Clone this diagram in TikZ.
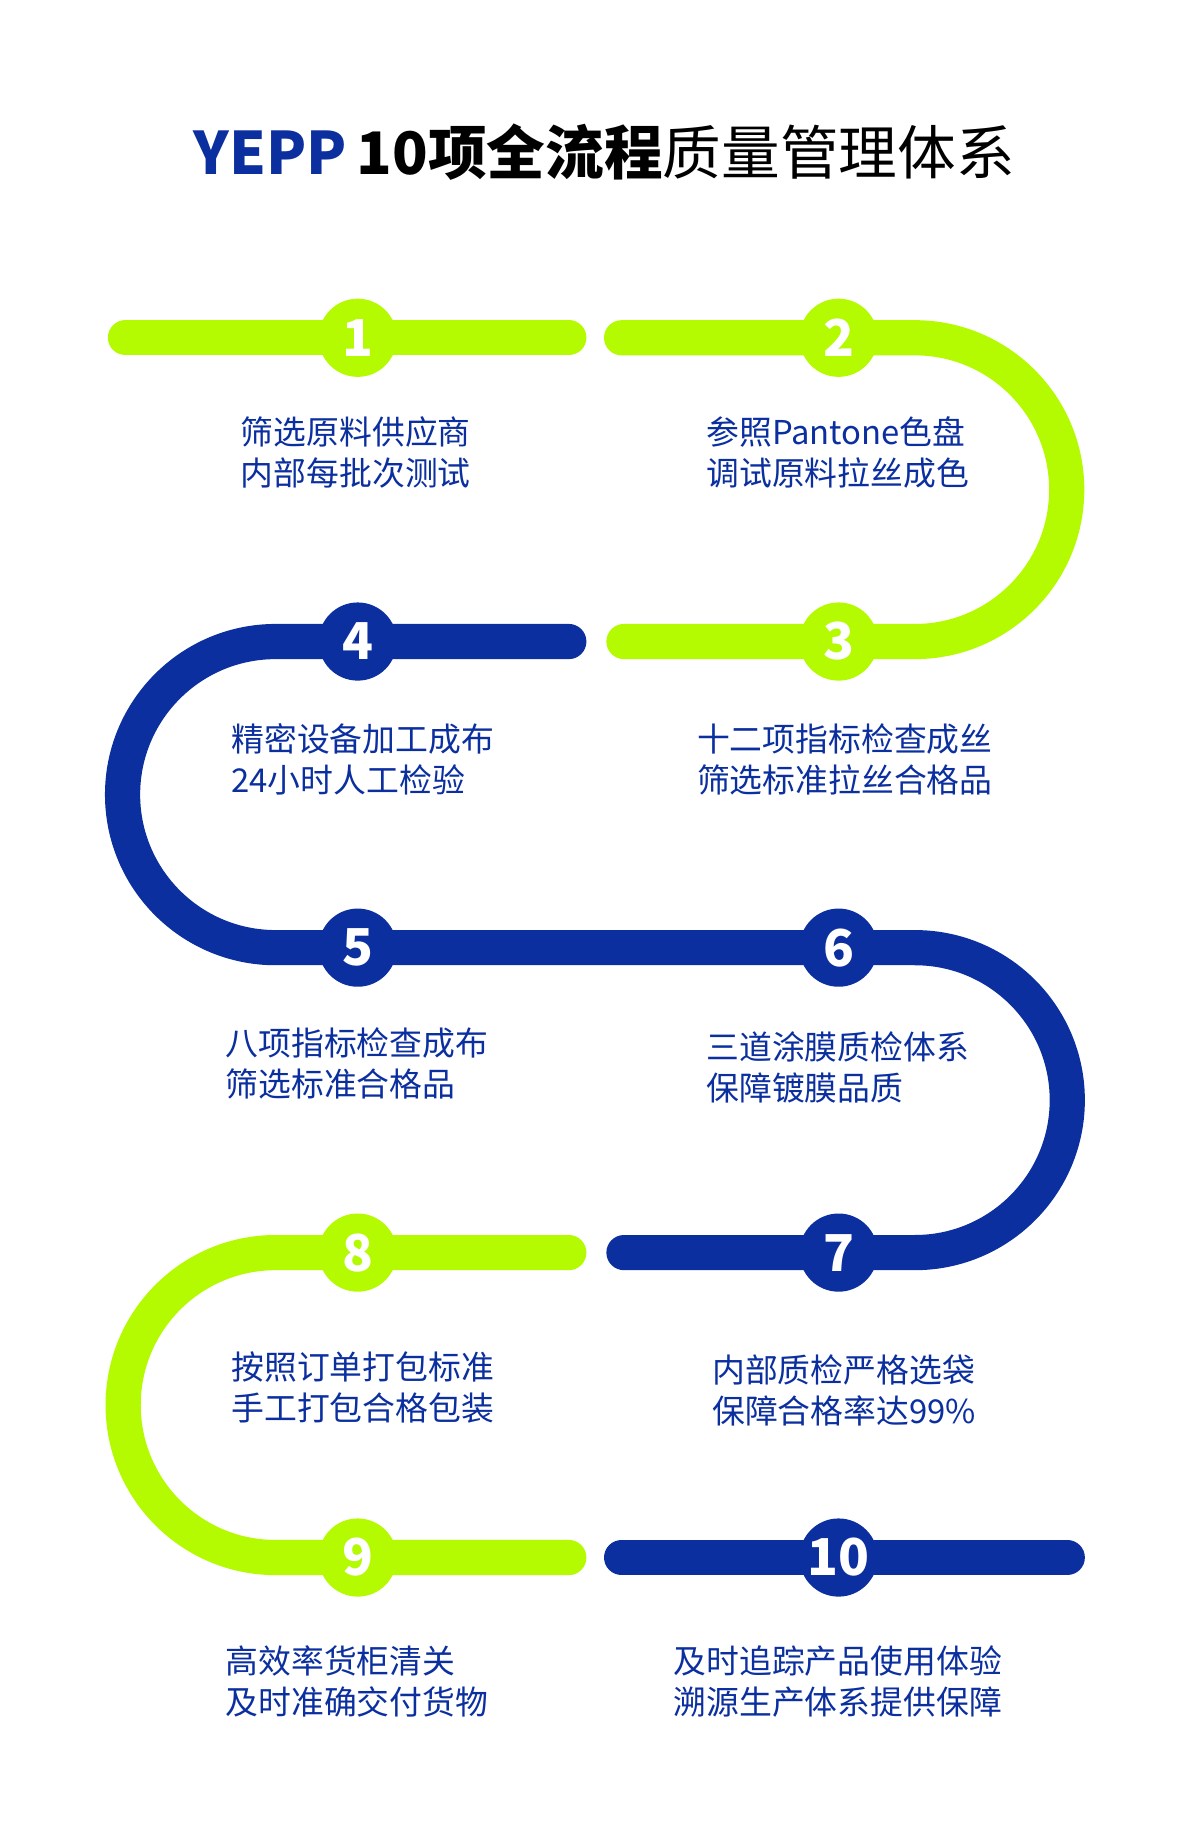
\documentclass[tikz,border=0pt]{standalone}
\usepackage{fontspec}
\newfontfamily\cjk{Noto Sans CJK SC}
\usepackage{tikz}
\usetikzlibrary{positioning}
\definecolor{lime}{HTML}{B4FA00}
\definecolor{navy}{HTML}{0B2F9F}

\begin{document}
\begin{tikzpicture}[x=0.6pt, y=-0.6pt]
    % Define styles
    \tikzset{track/.style={line width=18pt, line cap=round},
             num/.style={circle, minimum size=40pt, inner sep=0pt, text=white, font=\cjk\bfseries\fontsize{26}{26}\selectfont},
             info/.style={anchor=north west, align=left, text=navy, inner sep=0pt, font=\cjk\fontsize{16.8}{21}\selectfont}}
    \useasboundingbox (0,0) rectangle (1023,1568);

    % Title
    \node[anchor=west, inner sep=0pt] (title) at (165,130) {\cjk\fontsize{30}{30}\selectfont
      {\bfseries\color{navy}YEPP}\,{\bfseries 10项全流程}质量管理体系};

    % Track
    \draw[track, lime] (107,288) -- (485,288);
    \draw[track, lime] (530,288) -- (780,288) arc[start angle=-90, end angle=90, radius=129.5] -- (532,547);
    \draw[track, navy] (485,547) -- (235,547) arc[start angle=-90, end angle=-270, radius=130.5] -- (780,808)
                       arc[start angle=-90, end angle=90, radius=130] -- (532,1068);
    \draw[track, lime] (485,1068) -- (235,1068) arc[start angle=-90, end angle=-270, radius=130] -- (485,1328);
    \draw[track, navy] (530,1328) -- (910,1328);

    % Steps
    \node[num, fill=lime] (c1) at (305,288) {1};
    \node[num, fill=lime] (c2) at (715,288) {2};
    \node[num, fill=lime] (c3) at (715,547) {3};
    \node[num, fill=navy] (c4) at (305,547) {4};
    \node[num, fill=navy] (c5) at (305,808) {5};
    \node[num, fill=navy] (c6) at (715,808) {6};
    \node[num, fill=navy] (c7) at (715,1068) {7};
    \node[num, fill=lime] (c8) at (305,1068) {8};
    \node[num, fill=lime] (c9) at (305,1328) {9};
    \node[num, fill=navy] (c10) at (715,1328) {10};

    % Texts
    \node[info] (t1) at (205,355) {筛选原料供应商\\内部每批次测试};
    \node[info] (t2) at (602,355) {参照Pantone色盘\\调试原料拉丝成色};
    \node[info] (t3) at (594,617) {十二项指标检查成丝\\筛选标准拉丝合格品};
    \node[info] (t4) at (197,617) {精密设备加工成布\\24小时人工检验};
    \node[info] (t5) at (192,876) {八项指标检查成布\\筛选标准合格品};
    \node[info] (t6) at (602,879) {三道涂膜质检体系\\保障镀膜品质};
    \node[info] (t7) at (607,1155) {内部质检严格选袋\\保障合格率达99\%};
    \node[info] (t8) at (197,1152) {按照订单打包标准\\手工打包合格包装};
    \node[info] (t9) at (192,1403) {高效率货柜清关\\及时准确交付货物};
    \node[info] (t10) at (574,1403) {及时追踪产品使用体验\\溯源生产体系提供保障};
\end{tikzpicture}
\end{document}
